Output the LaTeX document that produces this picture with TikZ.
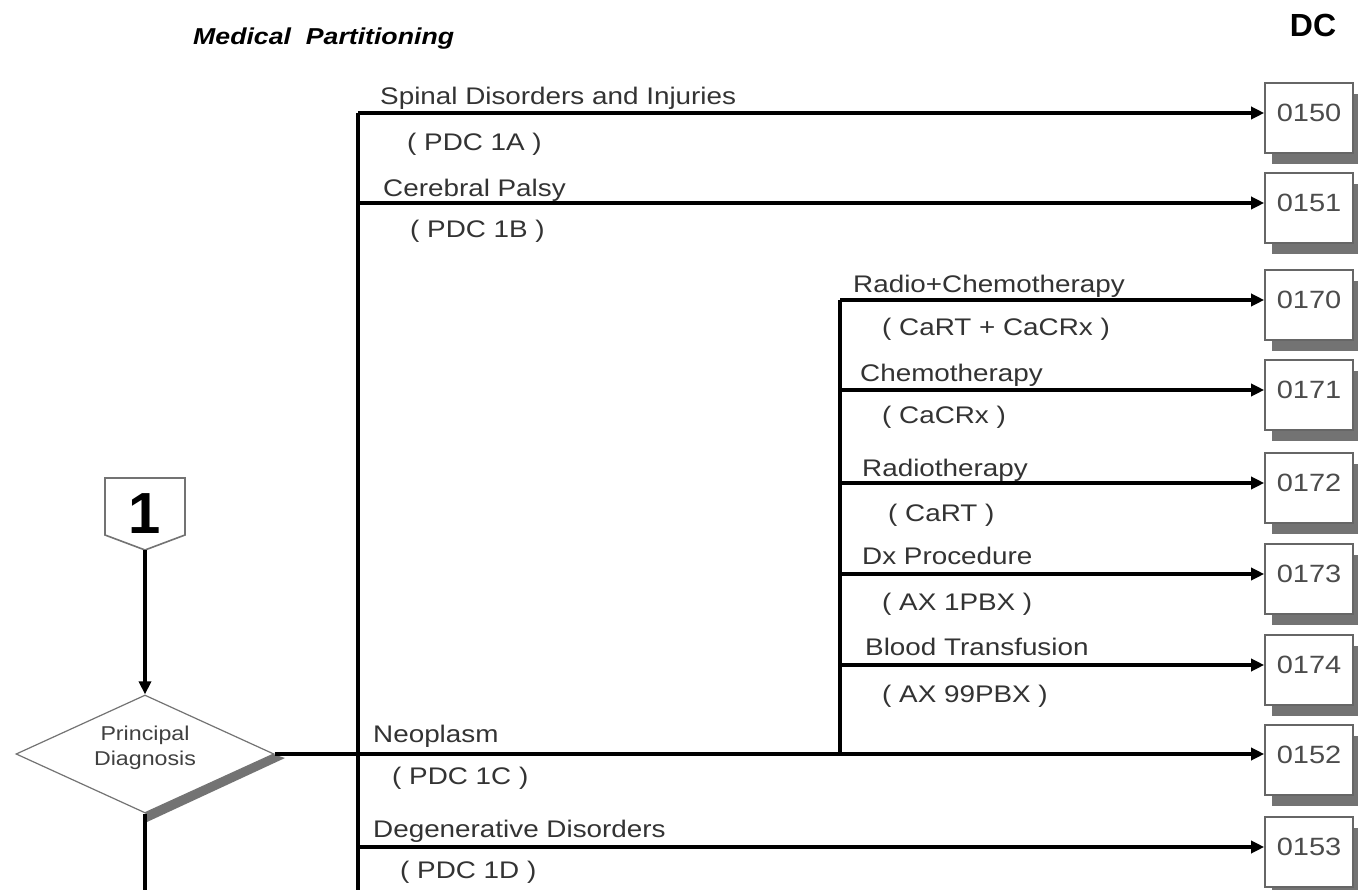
\documentclass[tikz,border=0pt]{standalone}
\usepackage{fontspec}
\setmainfont{Liberation Sans}
\usetikzlibrary{shapes.geometric,arrows.meta,shadows}
\newcommand\widetxt[1]{\scalebox{1.16}[1]{#1}}
\begin{document}
\begin{tikzpicture}[x=1pt,y=-1pt,
  conn/.style={line width=4.2pt},
  arr/.style={line width=4.2pt,-{Triangle[length=13pt,width=12pt]}},
  lbl/.style={anchor=mid west,inner sep=0pt,text=black!80,font=\fontsize{24}{28}\selectfont},
  dcbox/.style={draw=black!60,line width=1.6pt,fill=white,minimum width=88pt,minimum height=70pt,
     text=black!70,font=\fontsize{24}{28}\selectfont,inner sep=0pt,
     drop shadow={shadow xshift=7pt,shadow yshift=-11pt,fill=black!55,opacity=1}},
  dcnum/.style={text=black!70,font=\fontsize{25}{28}\selectfont,inner sep=0pt}
]
\useasboundingbox (0,0) rectangle (1358,890);
\fill[white] (0,0) rectangle (1358,890);

% title
\node[anchor=mid west,inner sep=0pt,font=\fontsize{23}{28}\selectfont\bfseries\itshape] (title) at (193,42) {\widetxt{Medical\ \ Partitioning}};
\node[inner sep=0pt,font=\fontsize{32}{36}\selectfont\bfseries] (dc) at (1313,25) {DC};

% DC boxes (box centre 5px below arrow line)
\foreach \n/\yy in {0150/113,0151/203,0170/300,0171/390,0172/483,0173/574,0174/665,0152/755,0153/847}{
  \node[dcbox] (b\n) at (1309,\yy+5) {};
  \node[dcnum] (t\n) at (1309,\yy) {\widetxt{\n}};
}

% off-page connector 1
\draw[draw=black!55,line width=1.6pt,fill=white] (105,478) -- (185,478) -- (185,535) -- (145,550) -- (105,535) -- cycle;
\node[inner sep=0pt,font=\fontsize{58}{60}\selectfont\bfseries] (one) at (145,514) {1};
\coordinate (onebot) at (145,550);

% principal diagnosis diamond
\fill[black!55] (273,754) -- (145,812) -- (147,822) -- (285,758) -- cycle;
\node[draw=black!55,line width=1.2pt,fill=white,diamond,aspect=2.18,minimum width=258pt,minimum height=118pt,inner sep=0pt,
      align=center,text=black!75,font=\fontsize{20}{25}\selectfont] (pd) at (145,754) {};
\node[align=center,text=black!75,font=\fontsize{20}{25}\selectfont,inner sep=0pt] (pdt) at (145,748) {\widetxt{Principal}\\\widetxt{Diagnosis}};

\draw[arr] (onebot) -- (pd.north);
\coordinate (pdout) at (145,890);
\draw[conn] (pd.south) -- (pdout);

% main vertical bus
\coordinate (v1top) at (358,113);
\coordinate (v1b) at (358,203);
\coordinate (v1d) at (358,847);
\coordinate (v1bot) at (358,890);
\draw[conn] (v1top) -- (v1bot);
\draw[arr] (v1top) -- (v1top -| b0150.west);
\draw[arr] (v1b) -- (v1b -| b0151.west);
\draw[arr] (pd.east) -- (pd.east -| b0152.west);
\draw[arr] (v1d) -- (v1d -| b0153.west);

% neoplasm sub bus
\coordinate (v2top) at (840,300);
\coordinate (v2a) at (840,390);
\coordinate (v2b) at (840,483);
\coordinate (v2c) at (840,574);
\coordinate (v2d) at (840,665);
\coordinate (v2bot) at (840,754);
\draw[conn] (v2bot) -- (v2top);
\draw[arr] (v2top) -- (v2top -| b0170.west);
\draw[arr] (v2a) -- (v2a -| b0171.west);
\draw[arr] (v2b) -- (v2b -| b0172.west);
\draw[arr] (v2c) -- (v2c -| b0173.west);
\draw[arr] (v2d) -- (v2d -| b0174.west);

% labels
\node[lbl] (l1) at (380,102) {\widetxt{Spinal Disorders and Injuries}};
\node[lbl] (l1b) at (407,148) {\widetxt{( PDC 1A )}};
\node[lbl] (l2) at (383,194) {\widetxt{Cerebral Palsy}};
\node[lbl] (l2b) at (410,235) {\widetxt{( PDC 1B )}};
\node[lbl] (l3) at (853,290) {\widetxt{Radio+Chemotherapy}};
\node[lbl] (l3b) at (882,333) {\widetxt{( CaRT + CaCRx )}};
\node[lbl] (l4) at (860,379) {\widetxt{Chemotherapy}};
\node[lbl] (l4b) at (882,421) {\widetxt{( CaCRx )}};
\node[lbl] (l5) at (862,474) {\widetxt{Radiotherapy}};
\node[lbl] (l5b) at (888,519) {\widetxt{( CaRT )}};
\node[lbl] (l6) at (862,562) {\widetxt{Dx Procedure}};
\node[lbl] (l6b) at (882,608) {\widetxt{( AX 1PBX )}};
\node[lbl] (l7) at (865,653) {\widetxt{Blood Transfusion}};
\node[lbl] (l7b) at (882,700) {\widetxt{( AX 99PBX )}};
\node[lbl] (l8) at (373,740) {\widetxt{Neoplasm}};
\node[lbl] (l8b) at (392,782) {\widetxt{( PDC 1C )}};
\node[lbl] (l9) at (373,835) {\widetxt{Degenerative Disorders}};
\node[lbl] (l9b) at (400,876) {\widetxt{( PDC 1D )}};
\end{tikzpicture}
\end{document}
